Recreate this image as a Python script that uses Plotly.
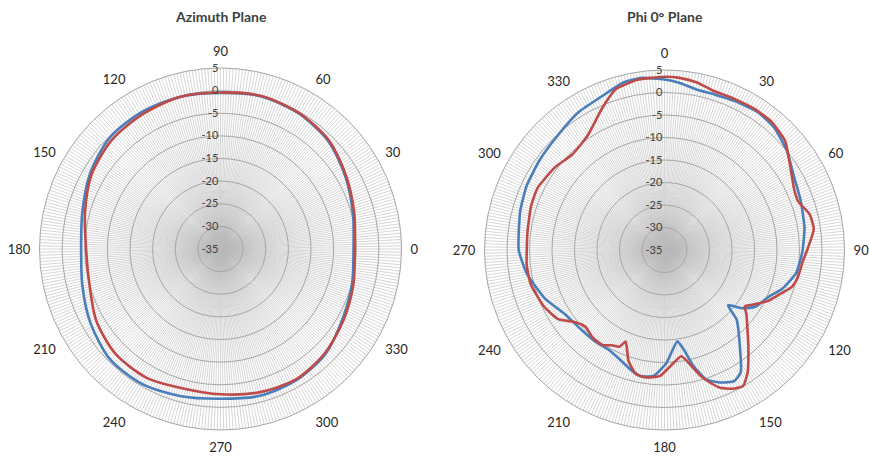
import plotly.graph_objects as go

# ---------------- data ----------------
az_angles = [0, 15, 30, 45, 60, 75, 90, 105, 120, 135, 150, 165,
             180, 195, 210, 225, 240, 255, 270, 285, 300, 315, 330, 345]
az_blue = [-5.6, -4.7, -3.1, -1.3, -0.4, -0.1, -0.5, -0.2, -0.1, -0.3, -1.7, -3.4,
           -4.2, -3.4, -1.9, -0.5, -0.5, -1.3, -1.9, -1.4, -1.5, -2.2, -3.9, -4.9]
az_red = [-5.3, -4.4, -2.9, -1.1, -0.3, 0.0, -0.4, -0.2, -0.6, -1.0, -2.1, -4.0,
          -5.3, -5.0, -3.3, -2.2, -2.2, -3.1, -2.9, -2.2, -1.7, -2.4, -3.6, -4.6]

phi_blue_angles = [0, 5, 11, 18, 25, 34, 42, 51, 61, 70, 81, 90, 93, 100, 108, 114,
                   122, 127, 131, 134, 142, 148, 152, 157, 162, 166, 169, 172, 179,
                   185, 191, 196, 202, 209, 217, 226, 237, 248, 260, 270, 285, 295,
                   306, 317, 328, 338, 346, 352]
phi_blue = [2.9, 2.3, 1.4, 1.3, 1.6, 2.0, 1.5, 0.0, -2.0, -2.8, -3.5, -4.3, -4.6, -5.3,
            -7.4, -9.6, -11.2, -13.5, -16.3, -12.7, -7.8, -3.0, -2.0, -3.0, -4.7, -8.4,
            -12.4, -14.5, -9.9, -6.9, -6.5, -7.4, -8.7, -9.6, -9.5, -9.4, -8.7, -6.3,
            -4.0, -2.6, -1.8, -1.2, -0.8, -0.2, 1.1, 1.9, 3.3, 3.6]

phi_red_angles = [0, 5, 11, 17, 25, 33, 40, 48, 57, 65, 70, 76, 82, 90, 95, 102, 106,
                  110, 116, 121, 125, 128, 139, 146, 150, 154, 158, 161, 164, 167,
                  171, 177, 182, 188, 193, 198, 203, 205, 209, 213, 219, 226, 231,
                  237, 245, 256, 264, 270, 277, 288, 296, 307, 316, 326, 336, 343, 351]
phi_red = [3.5, 3.4, 2.9, 2.0, 2.0, 2.2, 2.1, 1.1, -1.6, -3.2, -3.4, -1.8, -1.5, -3.3,
           -4.2, -4.8, -5.5, -7.2, -9.3, -11.6, -13.2, -11.9, -6.6, -2.0, -0.1, -0.7,
           -2.0, -3.8, -5.9, -8.6, -11.1, -9.2, -7.0, -6.4, -6.7, -9.1, -12.9, -11.3,
           -10.8, -9.8, -9.8, -10.5, -9.5, -6.8, -5.4, -4.3, -4.2, -4.4, -4.3, -3.8,
           -3.6, -4.5, -5.5, -4.4, -0.7, 2.3, 3.3]

radial_ticks = [-35, -30, -25, -20, -15, -10, -5, 0, 5]
angle_label_step = 30
titles = ["Azimuth Plane", "Phi 0° Plane"]

BLUE = "#4a7ebb"
RED = "#be4b48"
FONT = "Lato"

W, H = 869, 468


def closed(a, v):
    return list(a) + [a[0] + 360], list(v) + [v[0]]


fig = go.Figure()

for ang, val, col in [(az_angles, az_blue, BLUE), (az_angles, az_red, RED)]:
    t, r = closed(ang, val)
    fig.add_trace(go.Scatterpolar(r=r, theta=t, mode="lines", subplot="polar",
                                  line=dict(color=col, width=2.6, shape="spline", smoothing=0.8),
                                  showlegend=False, hoverinfo="skip"))

for ang, val, col in [(phi_blue_angles, phi_blue, BLUE), (phi_red_angles, phi_red, RED)]:
    t, r = closed(ang, val)
    fig.add_trace(go.Scatterpolar(r=r, theta=t, mode="lines", subplot="polar2",
                                  line=dict(color=col, width=2.6, shape="spline", smoothing=0.5),
                                  showlegend=False, hoverinfo="skip"))

tickvals = list(range(0, 360))
ticktext = [str(v) if v % angle_label_step == 0 else "" for v in tickvals]


def dom(cx, cy, R):
    # cx, cy in pixel coords from top-left
    y0 = H - cy
    return [(cx - R) / W, (cx + R) / W], [(y0 - R) / H, (y0 + R) / H]


def polar_layout(cx, cy, R, rotation, direction):
    xd, yd = dom(cx, cy, R)
    return dict(
        domain=dict(x=xd, y=yd),
        bgcolor="white",
        radialaxis=dict(range=[-35, 5], tickmode="array", tickvals=radial_ticks,
                        ticktext=[str(v) for v in radial_ticks],
                        angle=90, side="counterclockwise", tickangle=90,
                        showline=False, ticks="", gridcolor="#a6a6a6", gridwidth=1,
                        tickfont=dict(family=FONT, size=11, color="#404040")),
        angularaxis=dict(rotation=rotation, direction=direction, tickmode="array",
                         tickvals=tickvals, ticktext=ticktext,
                         ticks="outside", ticklen=6, tickcolor="rgba(0,0,0,0)",
                         showline=True, linecolor="#a6a6a6", linewidth=1,
                         gridcolor="#bababa", gridwidth=0.6,
                         tickfont=dict(family=FONT, size=13, color="#262626")),
    )


def title_ann(text, cx, cy):
    return dict(text="<b>%s</b>" % text, x=cx / W, y=1 - cy / H,
                xref="paper", yref="paper", xanchor="center", yanchor="middle",
                showarrow=False, font=dict(family=FONT, size=14, color="#404040"))


fig.update_layout(
    width=W, height=H,
    margin=dict(l=0, r=0, t=0, b=0),
    paper_bgcolor="white",
    polar=polar_layout(220.5, 249, 181, 0, "counterclockwise"),
    polar2=polar_layout(664.5, 250, 180, 90, "clockwise"),
    annotations=[title_ann(titles[0], 220.5, 17), title_ann(titles[1], 664.5, 17)],
)

fig.write_html("out.html",
               config={"displayModeBar": False, "staticPlot": True},
               post_script="document.body.style.margin='0';document.body.style.overflow='hidden';")
